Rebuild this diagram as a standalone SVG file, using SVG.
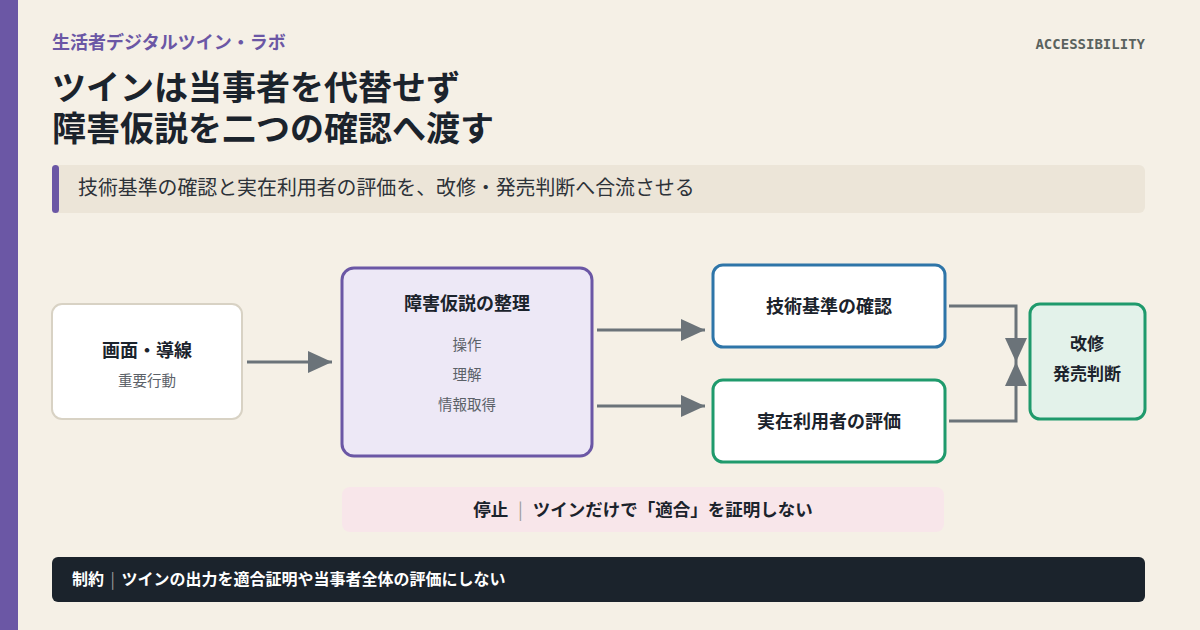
<svg xmlns="http://www.w3.org/2000/svg" width="1200" height="630" viewBox="0 0 1200 630">
<defs>
<style>
text{font-family:"Noto Sans CJK JP","Noto Sans",sans-serif;}
.t{font-weight:700;fill:#1b232c;}
.s{fill:#5b6168;font-size:14.5px;}
.conn{fill:none;stroke:#6b7379;stroke-width:3;}
.sep{fill:#9a9a9a;font-weight:400;}
</style>
<marker id="arr" viewBox="0 0 24 22" refX="24" refY="11" markerWidth="24" markerHeight="22" markerUnits="userSpaceOnUse" orient="auto">
<path d="M0,0 L24,11 L0,22 Z" fill="#6b7379"/>
</marker>
</defs>
<rect width="1200" height="630" fill="#f5f0e6"/>
<rect x="0" y="0" width="18" height="630" fill="#6b57a5"/>
<text x="52" y="49" font-size="18" font-weight="700" fill="#6b57a5">生活者デジタルツイン・ラボ</text>
<text x="1145" y="49" font-size="14" font-weight="700" fill="#5a625e" text-anchor="end" style="font-family:'DejaVu Sans Mono',monospace">ACCESSIBILITY</text>
<text x="52" y="100" font-size="34" class="t">ツインは当事者を代替せず</text>
<text x="52" y="141" font-size="34" class="t">障害仮説を二つの確認へ渡す</text>
<g id="summary">
<rect x="52" y="165" width="1093" height="48" rx="6" fill="#ece5d8"/>
<rect x="52" y="165" width="7" height="48" rx="3.5" fill="#6b57a5"/>
<text x="78" y="195" font-size="19.9" fill="#2d3238">技術基準の確認と実在利用者の評価を、改修・発売判断へ合流させる</text>
</g>
<g id="connectors">
<line class="conn" x1="247" y1="362" x2="332" y2="362" marker-end="url(#arr)"/>
<line class="conn" x1="597" y1="330" x2="705" y2="330" marker-end="url(#arr)"/>
<line class="conn" x1="597" y1="406" x2="705" y2="406" marker-end="url(#arr)"/>
<polyline class="conn" points="949,306 1016,306 1016,362" marker-end="url(#arr)"/>
<polyline class="conn" points="949,421 1016,421 1016,362" marker-end="url(#arr)"/>
</g>
<g id="node-screen">
<rect x="52" y="304" width="190" height="115" rx="10" fill="#ffffff" stroke="#d8d2c4" stroke-width="2"/>
<text x="147" y="357" font-size="18" class="t" text-anchor="middle">画面・導線</text>
<text x="147" y="386" class="s" text-anchor="middle">重要行動</text>
</g>
<g id="node-hypothesis">
<rect x="342" y="268" width="250" height="188" rx="12" fill="#ede8f6" stroke="#6b57a5" stroke-width="3"/>
<text x="467" y="310" font-size="18" class="t" text-anchor="middle">障害仮説の整理</text>
<text x="467" y="350" class="s" text-anchor="middle">操作</text>
<text x="467" y="380" class="s" text-anchor="middle">理解</text>
<text x="467" y="410" class="s" text-anchor="middle">情報取得</text>
</g>
<g id="node-tech">
<rect x="713" y="265" width="232" height="82" rx="10" fill="#ffffff" stroke="#2e75a8" stroke-width="3"/>
<text x="829" y="313" font-size="18" class="t" text-anchor="middle">技術基準の確認</text>
</g>
<g id="node-user">
<rect x="713" y="380" width="232" height="82" rx="10" fill="#ffffff" stroke="#1f9a6c" stroke-width="3"/>
<text x="829" y="428" font-size="18" class="t" text-anchor="middle">実在利用者の評価</text>
</g>
<g id="node-decision">
<rect x="1030" y="304" width="115" height="115" rx="10" fill="#e3f2ea" stroke="#1f9a6c" stroke-width="3"/>
<text x="1087" y="350" font-size="17" class="t" text-anchor="middle">改修</text>
<text x="1087" y="380" font-size="17" class="t" text-anchor="middle">発売判断</text>
</g>
<g id="stop">
<rect x="342" y="487" width="602" height="45" rx="8" fill="#f8e6ea"/>
<text x="643" y="516" font-size="17.5" class="t" text-anchor="middle">停止<tspan class="sep" dx="6"> | </tspan><tspan dx="6">ツインだけで「適合」を証明しない</tspan></text>
</g>
<g id="constraint">
<rect x="52" y="557" width="1093" height="45" rx="6" fill="#1b232c"/>
<text x="72" y="585" font-size="16" font-weight="700" fill="#ffffff">制約<tspan class="sep" dx="3"> | </tspan><tspan dx="3">ツインの出力を適合証明や当事者全体の評価にしない</tspan></text>
</g>
</svg>
